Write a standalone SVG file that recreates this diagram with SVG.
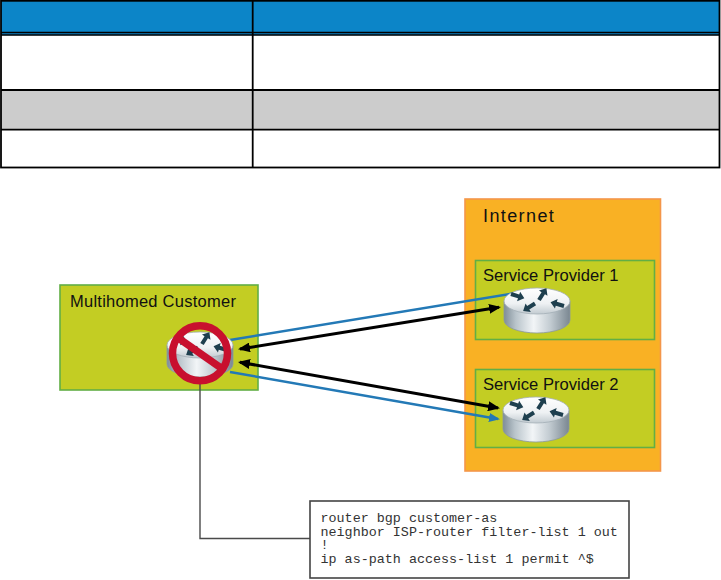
<svg xmlns="http://www.w3.org/2000/svg" width="721" height="580" viewBox="0 0 721 580">
<style>
.lbl{font-family:"Liberation Sans",Arial,sans-serif;fill:#111;}
.code{font-family:"Liberation Mono","Courier New",monospace;font-size:13.4px;fill:#333;}
.grn{fill:#C3CD23;stroke:#62AE45;stroke-width:1.6;}
.tl{stroke:#000;stroke-width:1.8;fill:none;}
.blk{stroke:#000;stroke-width:3;fill:none;}
.blu{stroke:#2379B6;stroke-width:2.4;fill:none;}
</style>
<defs>
<linearGradient id="side" x1="0" y1="0" x2="1" y2="0">
<stop offset="0" stop-color="#7f8d97"/>
<stop offset="0.18" stop-color="#b9c4cb"/>
<stop offset="0.45" stop-color="#f2f5f7"/>
<stop offset="0.7" stop-color="#c3ccd2"/>
<stop offset="1" stop-color="#7a8791"/>
</linearGradient>
<linearGradient id="top" x1="0" y1="0" x2="0" y2="1">
<stop offset="0" stop-color="#ffffff"/>
<stop offset="0.6" stop-color="#eef1f3"/>
<stop offset="1" stop-color="#c2cbd1"/>
</linearGradient>
<polygon id="arw" points="0,-2 8,-2 8,-5 14,0 8,5 8,2 0,2" fill="#1E3F4E"/>
<g id="router">
<path d="M-33,0 V19 A33,13 0 0 0 33,19 V0 Z" fill="url(#side)" stroke="#8a98a2" stroke-width="0.8"/>
<ellipse cx="0" cy="0" rx="33" ry="13" fill="url(#top)" stroke="#a3aeb6" stroke-width="0.8"/>
<use href="#arw" transform="translate(-26,-7) rotate(18)"/>
<use href="#arw" transform="translate(2,-1) rotate(-58)"/>
<use href="#arw" transform="translate(-2,2.5) rotate(148)"/>
<use href="#arw" transform="translate(27,5) rotate(196)"/>
</g>
<marker id="ab" viewBox="0 0 12 10" refX="10" refY="5" markerWidth="12" markerHeight="10" markerUnits="userSpaceOnUse" orient="auto-start-reverse">
<path d="M0,0 L12,5 L0,10 Z" fill="#000"/>
</marker>
<marker id="au" viewBox="0 0 11 9" refX="9" refY="4.5" markerWidth="11" markerHeight="9" markerUnits="userSpaceOnUse" orient="auto">
<path d="M0,0 L11,4.5 L0,9 Z" fill="#2379B6"/>
</marker>
</defs>

<g id="table">
<rect x="1" y="0.8" width="718.5" height="34.4" fill="#0C85C8"/>
<rect x="1" y="90" width="718.5" height="39.6" fill="#CCCCCC"/>
<rect x="1" y="0.8" width="718.5" height="166.7" class="tl"/>
<line x1="1" y1="32.5" x2="719.5" y2="32.5" stroke="#000" stroke-width="1.6"/>
<line x1="1" y1="35" x2="719.5" y2="35" stroke="#000" stroke-width="1.4"/>
<line x1="1" y1="90" x2="719.5" y2="90" class="tl"/>
<line x1="1" y1="129.6" x2="719.5" y2="129.6" class="tl"/>
<line x1="252.7" y1="0.8" x2="252.7" y2="167.5" class="tl"/>
</g>

<g id="internet">
<rect x="465" y="199" width="195.5" height="272" fill="#F9B124" stroke="#F4964A" stroke-width="1.6"/>
<text class="lbl" x="483" y="222.3" font-size="18" letter-spacing="1.4">Internet</text>
</g>

<g id="customer">
<rect x="60" y="285" width="198" height="105" class="grn"/>
<text class="lbl" x="70" y="307" font-size="16.5" letter-spacing="0.25">Multihomed Customer</text>
</g>

<g id="sp1">
<rect x="475.5" y="260.5" width="179" height="79" class="grn"/>
<text class="lbl" x="483" y="280.5" font-size="16.6">Service Provider 1</text>
</g>

<g id="sp2">
<rect x="475.5" y="369.5" width="179" height="78" class="grn"/>
<text class="lbl" x="483" y="389.5" font-size="16.6">Service Provider 2</text>
</g>

<g id="connectors">
<line x1="230" y1="340" x2="522" y2="292" class="blu"/>
<line x1="230" y1="372" x2="498" y2="419" class="blu" marker-end="url(#au)"/>
<line x1="240" y1="349" x2="499" y2="307.3" class="blk" marker-start="url(#ab)" marker-end="url(#ab)"/>
<line x1="240" y1="362.3" x2="498" y2="408" class="blk" marker-start="url(#ab)" marker-end="url(#ab)"/>
<path d="M200,378 V538.5 H310" fill="none" stroke="#4a4a4a" stroke-width="1.4"/>
</g>

<g id="sp1-router">
<use href="#router" transform="translate(537,301)"/>
</g>
<g id="sp2-router">
<use href="#router" transform="translate(536,410)"/>
</g>

<g id="customer-router">
<use href="#router" transform="translate(200,345)"/>
<circle cx="200" cy="353.3" r="27.5" fill="none" stroke="#C8102E" stroke-width="7.5"/>
<line x1="177.5" y1="337.5" x2="222.5" y2="369" stroke="#C8102E" stroke-width="7.5"/>
</g>

<g id="config">
<rect x="310" y="501" width="319" height="77" fill="#fff" stroke="#444" stroke-width="1.6"/>
<text class="code" x="320.5" y="522">router bgp customer-as</text>
<text class="code" x="320.5" y="535.7">neighbor ISP-router filter-list 1 out</text>
<text class="code" x="320.5" y="549.4">!</text>
<text class="code" x="320.5" y="563.1">ip as-path access-list 1 permit ^$</text>
</g>
</svg>
